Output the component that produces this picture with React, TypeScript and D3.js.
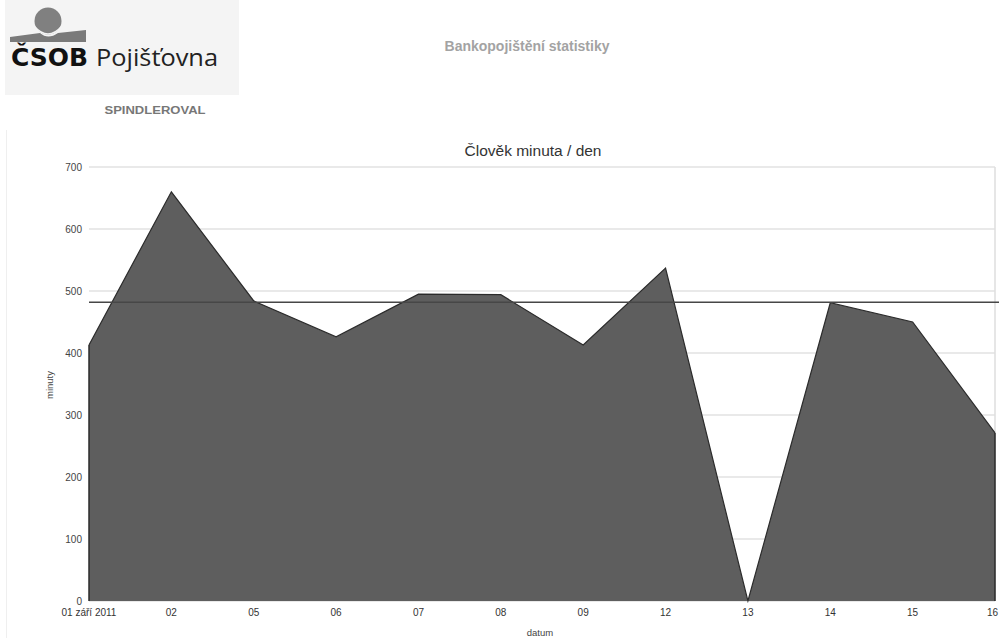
import React from "react";
import * as d3 from "d3";

// Daily person-minutes, September 2011
const dayLabels = ["01 září 2011", "02", "05", "06", "07", "08", "09", "12", "13", "14", "15", "16"];
const minutes = [413, 660, 484, 426, 495, 494, 413, 537, 0, 481, 450, 271];
const referenceLevel = 482;
const yTicks = [0, 100, 200, 300, 400, 500, 600, 700];

const W = 999;
const H = 638;
const plot = { left: 89, right: 995, top: 167, bottom: 601 };
const FONT = "'Liberation Sans', Arial, sans-serif";

export default function App() {
  const x = d3.scalePoint<string>().domain(dayLabels).range([plot.left, plot.right]);
  const y = d3.scaleLinear().domain([0, 700]).range([plot.bottom, plot.top]);

  const points = dayLabels.map((d, i) => ({ d, v: minutes[i] }));
  const area = d3
    .area<{ d: string; v: number }>()
    .x((p) => x(p.d) as number)
    .y0(y(0))
    .y1((p) => y(p.v));
  const line = d3
    .line<{ d: string; v: number }>()
    .x((p) => x(p.d) as number)
    .y((p) => y(p.v));

  const lastLabel = dayLabels[dayLabels.length - 1];

  return (
    <svg
      width={W}
      height={H}
      style={{ position: "absolute", left: 0, top: 0, background: "#fff" }}
      fontFamily={FONT}
    >
      {/* logo block */}
      <rect x={5} y={0} width={234} height={95} fill="#f4f4f4" />
      <path d="M10,37 L40,33 Q48,40 58,33 L86,30 L86,42 L10,42 Z" fill="#7a7a7a" />
      <circle cx={48} cy={21} r={13.5} fill="#808080" />
      <path d="M34,26 Q48,42 62,26" fill="none" stroke="#f4f4f4" strokeWidth={1.5} />
      <text x={11} y={66} fontSize={24} fontWeight={900} fill="#111" textLength={77} lengthAdjust="spacingAndGlyphs"
        fontFamily="'DejaVu Sans', Arial, sans-serif">
        ČSOB
      </text>
      <text x={96} y={66} fontSize={23} fill="#222" textLength={122} lengthAdjust="spacingAndGlyphs"
        fontFamily="'Open Sans', Arial, sans-serif">
        Pojišťovna
      </text>
      <text x={155} y={114} fontSize={11.5} fontWeight={700} fill="#777" textAnchor="middle" textLength={101}
        lengthAdjust="spacingAndGlyphs">
        SPINDLEROVAL
      </text>

      <text x={527} y={51} fontSize={14} fontWeight={700} fill="#a3a3a3" textAnchor="middle">
        Bankopojištění statistiky
      </text>

      {/* chart frame */}
      <line x1={6.5} x2={6.5} y1={130} y2={H} stroke="#efefef" />
      <text x={533} y={156} fontSize={15.5} fill="#333" textAnchor="middle">
        Člověk minuta / den
      </text>

      {yTicks.map((t) => (
        <g key={t}>
          <line x1={plot.left} x2={plot.right} y1={y(t)} y2={y(t)} stroke="#e2e2e2" strokeWidth={1.5} />
          <text x={82} y={y(t) + 3.5} fontSize={10} fill="#444" textAnchor="end">
            {t}
          </text>
        </g>
      ))}
      <line x1={plot.right} x2={plot.right} y1={plot.top} y2={plot.bottom} stroke="#dedede" strokeWidth={1.5} />

      <path d={area(points) ?? ""} fill="#5e5e5e" />
      <path d={line(points) ?? ""} fill="none" stroke="#2b2b2b" strokeWidth={1.2} />
      <line x1={plot.left} x2={plot.left} y1={y(minutes[0])} y2={plot.bottom} stroke="#2b2b2b" strokeWidth={1.5} />
      <line x1={plot.right} x2={plot.right} y1={y(minutes[minutes.length - 1])} y2={plot.bottom} stroke="#2b2b2b" strokeWidth={1.5} />

      <line x1={plot.left} x2={W} y1={y(referenceLevel)} y2={y(referenceLevel)} stroke="#474747" strokeWidth={1.5} />

      {dayLabels.map((d) => (
        <text
          key={d}
          x={d === lastLabel ? W - 1 : x(d)}
          y={616}
          fontSize={10}
          fill="#333"
          textAnchor={d === lastLabel ? "end" : "middle"}
        >
          {d}
        </text>
      ))}

      <text x={540} y={636} fontSize={9.5} fill="#444" textAnchor="middle">
        datum
      </text>
      <text transform={`translate(53,385) rotate(-90)`} fontSize={9.5} fill="#444" textAnchor="middle">
        minuty
      </text>
    </svg>
  );
}
